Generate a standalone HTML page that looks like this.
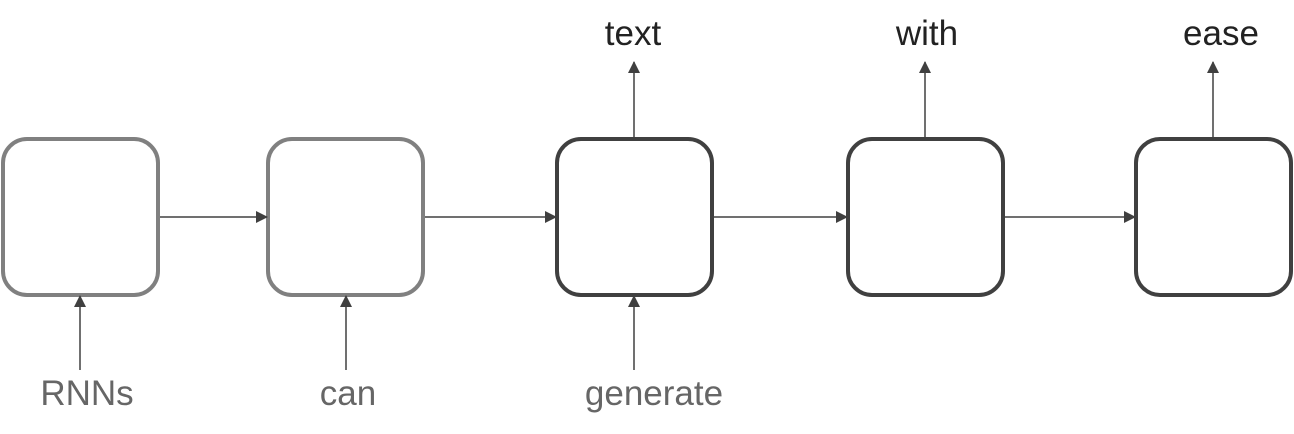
<!DOCTYPE html>
<html><head><style>body{margin:0;background:#fff}svg{display:block}</style></head><body>
<svg width="1294" height="434" viewBox="0 0 1294 434" xmlns="http://www.w3.org/2000/svg">
<defs>
<marker id="a" markerWidth="12" markerHeight="12" refX="11" refY="6" orient="auto" markerUnits="userSpaceOnUse"><path d="M0,0 L12,6 L0,12 Z" fill="#404040"/></marker>
</defs>
<g fill="none" stroke-width="4">
<rect x="3" y="139" width="155" height="156" rx="24" stroke="#808080"/>
<rect x="268" y="139" width="155" height="156" rx="24" stroke="#808080"/>
<rect x="557" y="139" width="155" height="156" rx="24" stroke="#404040"/>
<rect x="848" y="139" width="155" height="156" rx="24" stroke="#404040"/>
<rect x="1136" y="139" width="155" height="156" rx="24" stroke="#404040"/>
</g>
<g stroke="#404040" stroke-width="1.5" marker-end="url(#a)">
<line x1="160" y1="217" x2="267" y2="217"/>
<line x1="425" y1="217" x2="556" y2="217"/>
<line x1="714" y1="217" x2="847" y2="217"/>
<line x1="1005" y1="217" x2="1135" y2="217"/>
<line x1="80" y1="370" x2="80" y2="296"/>
<line x1="346" y1="370" x2="346" y2="296"/>
<line x1="634" y1="370" x2="634" y2="296"/>
<line x1="634" y1="137" x2="634" y2="62"/>
<line x1="925" y1="137" x2="925" y2="62"/>
<line x1="1213" y1="137" x2="1213" y2="62"/>
</g>
<g font-family="Liberation Sans, sans-serif" font-size="35" text-anchor="middle">
<text x="633" y="45" fill="#222">text</text>
<text x="927" y="45" fill="#222">with</text>
<text x="1221" y="45" fill="#222">ease</text>
<text x="87" y="405" fill="#666">RNNs</text>
<text x="348" y="405" fill="#666">can</text>
<text x="654" y="405" fill="#666">generate</text>
</g>
</svg>
</body></html>
